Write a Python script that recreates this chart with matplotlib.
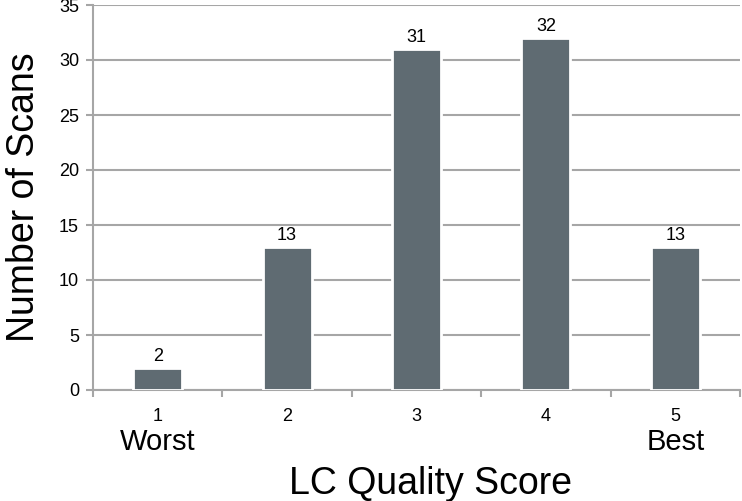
import matplotlib.pyplot as plt
import numpy as np

plt.rcParams['font.family'] = ['Liberation Sans', 'DejaVu Sans']

scores = [1, 2, 3, 4, 5]
scans = [2, 13, 31, 32, 13]
end_labels = {1: "Worst", 5: "Best"}

fig = plt.figure(figsize=(7.42, 5.01), dpi=100)
ax = fig.add_axes([93 / 742, 111 / 501, 647 / 742, 385 / 501])

grid_col = "#a6a6a6"
bars = ax.bar(scores, scans, width=0.38, color="#5f6b72",
              edgecolor="white", linewidth=2, zorder=3)
for b, v in zip(bars, scans):
    ax.text(b.get_x() + b.get_width() / 2, v + 0.25, str(v),
            ha="center", va="bottom", fontsize=13)

ax.set_xlim(0.5, 5.5)
ax.set_ylim(0, 35)
ax.set_yticks(np.arange(0, 36, 5))
ax.yaxis.grid(True, color=grid_col, linewidth=1.5, zorder=0)
ax.set_axisbelow(True)

ax.set_xticks(scores)
ax.set_xticks(np.arange(0.5, 6, 1), minor=True)
ax.tick_params(axis="x", which="major", length=0, labelsize=13, pad=13)
ax.tick_params(axis="x", which="minor", length=5, color=grid_col, width=1.5)
ax.tick_params(axis="y", length=5, color=grid_col, width=1.5, labelsize=13, pad=5)

for side in ["top", "right"]:
    ax.spines[side].set_visible(False)
for side in ["left", "bottom"]:
    ax.spines[side].set_color(grid_col)
    ax.spines[side].set_linewidth(1.5)

for x, lab in end_labels.items():
    ax.text(x, -0.135, lab, transform=ax.get_xaxis_transform(),
            ha="center", va="center", fontsize=21)

ax.set_xlabel("LC Quality Score", fontsize=27)
ax.xaxis.set_label_coords(0.521, -0.245)
ax.xaxis.label.set_va("center")
ax.set_ylabel("Number of Scans", fontsize=27)
ax.yaxis.set_label_coords(-0.107, 0.5)
ax.yaxis.label.set_va("center")

fig.savefig("out.png", dpi=100)
